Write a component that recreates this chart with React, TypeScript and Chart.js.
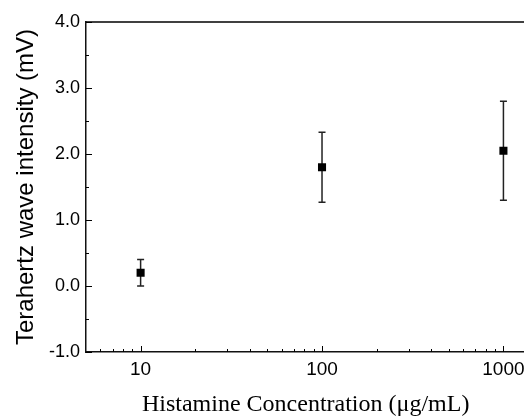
import React, { useEffect, useRef } from "react";
import { Chart, registerables } from "chart.js";

Chart.register(...registerables);

const concentrations = [10, 100, 1000];
const intensity = [0.2, 1.8, 2.05];
const errors = [0.2, 0.53, 0.75];
const xMajorTicks = [10, 100, 1000];
const xMinorTicks = [6, 7, 8, 9, 20, 30, 40, 50, 60, 70, 80, 90, 200, 300, 400, 500, 600, 700, 800, 900];
const yMajorTicks = [-1, 0, 1, 2, 3, 4];
const yMinorTicks = [-0.5, 0.5, 1.5, 2.5, 3.5];

const errorBarPlugin = {
  id: "errorBars",
  beforeDatasetsDraw(chart: any) {
    const { ctx, scales } = chart;
    const x = scales.x;
    const y = scales.y;
    ctx.save();
    ctx.strokeStyle = "#222";
    ctx.lineWidth = 1.5;
    concentrations.forEach((c, i) => {
      const px = x.getPixelForValue(c);
      const top = y.getPixelForValue(intensity[i] + errors[i]);
      const bot = y.getPixelForValue(intensity[i] - errors[i]);
      ctx.beginPath();
      ctx.moveTo(px, top);
      ctx.lineTo(px, bot);
      ctx.moveTo(px - 3.5, top);
      ctx.lineTo(px + 3.5, top);
      ctx.moveTo(px - 3.5, bot);
      ctx.lineTo(px + 3.5, bot);
      ctx.stroke();
    });
    ctx.restore();
  },
};

const axesPlugin = {
  id: "axesDecor",
  afterDraw(chart: any) {
    const { ctx, chartArea, scales } = chart;
    const x = scales.x;
    const y = scales.y;
    ctx.save();
    ctx.strokeStyle = "#000";
    const line = (x1: number, y1: number, x2: number, y2: number) => {
      ctx.beginPath();
      ctx.moveTo(x1, y1);
      ctx.lineTo(x2, y2);
      ctx.stroke();
    };
    ctx.lineWidth = 1.5;
    line(chartArea.left, chartArea.top, chartArea.right, chartArea.top);
    ctx.lineWidth = 1;
    const b = chartArea.bottom;
    const l = chartArea.left;
    xMajorTicks.forEach((v) => {
      const px = Math.round(x.getPixelForValue(v)) + 0.5;
      line(px, b, px, b - 6);
    });
    xMinorTicks.forEach((v) => {
      const px = Math.round(x.getPixelForValue(v)) + 0.5;
      line(px, b, px, b - 3);
    });
    yMajorTicks.forEach((v) => {
      const py = Math.round(y.getPixelForValue(v)) + 0.5;
      line(l, py, l + 6, py);
    });
    yMinorTicks.forEach((v) => {
      const py = Math.round(y.getPixelForValue(v)) + 0.5;
      line(l, py, l + 3, py);
    });
    ctx.restore();
  },
};

export default function App() {
  const ref = useRef<HTMLCanvasElement | null>(null);
  useEffect(() => {
    if (!ref.current) return;
    const chart = new Chart(ref.current, {
      type: "scatter",
      data: {
        datasets: [
          {
            data: concentrations.map((c, i) => ({ x: c, y: intensity[i] })),
            pointStyle: "rect",
            pointRadius: 5.7,
            pointHoverRadius: 5.7,
            backgroundColor: "#000",
            borderWidth: 0,
          },
        ],
      },
      options: {
        animation: false,
        responsive: false,
        layout: { padding: { top: 22, right: 0, left: 0, bottom: 0 } },
        plugins: { legend: { display: false }, tooltip: { enabled: false } },
        scales: {
          x: {
            type: "logarithmic",
            min: 5,
            max: 1320,
            afterBuildTicks: (scale: any) => {
              scale.ticks = xMajorTicks.map((v) => ({ value: v }));
            },
            afterFit: (scale: any) => {
              scale.height = 67;
              scale.paddingLeft = 0;
              scale.paddingRight = 0;
            },
            ticks: {
              color: "#000",
              font: { family: "Liberation Sans", size: 19 },
              padding: 0,
              maxRotation: 0,
              autoSkip: false,
              callback: (v: any) => String(v),
            },
            grid: {
              display: true,
              drawOnChartArea: false,
              drawTicks: true,
              tickLength: 6,
              tickColor: "rgba(0,0,0,0)",
            },
            border: { display: true, color: "#111", width: 1.5 },
            title: {
              display: true,
              text: "Histamine Concentration (μg/mL)",
              color: "#000",
              font: { family: "Liberation Serif", size: 24 },
              padding: { top: 0, bottom: 0 },
            },
          },
          y: {
            type: "linear",
            min: -1,
            max: 4,
            afterBuildTicks: (scale: any) => {
              scale.ticks = yMajorTicks.map((v) => ({ value: v }));
            },
            afterFit: (scale: any) => {
              scale.width = 86;
            },
            ticks: {
              color: "#000",
              font: { family: "Liberation Sans", size: 18 },
              padding: 6,
              callback: (v: any) => Number(v).toFixed(1),
            },
            grid: { display: false, drawTicks: false },
            border: { display: true, color: "#111", width: 1.5 },
            title: {
              display: true,
              text: "Terahertz wave intensity (mV)",
              color: "#000",
              font: { family: "Liberation Sans", size: 24 },
              padding: { top: 12, bottom: 0 },
            },
          },
        },
      },
      plugins: [errorBarPlugin, axesPlugin],
    });
    return () => chart.destroy();
  }, []);
  return (
    <div style={{ position: "absolute", left: 0, top: 0, width: 524, height: 419, overflow: "hidden", background: "#fff" }}>
      <canvas ref={ref} width={531} height={419} style={{ width: 531, height: 419, display: "block" }} />
    </div>
  );
}
